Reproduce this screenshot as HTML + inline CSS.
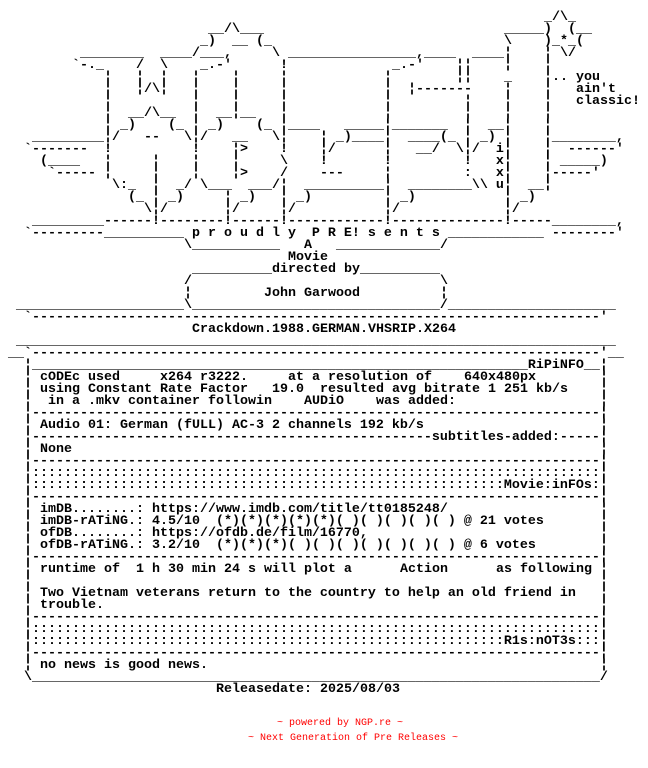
<!DOCTYPE html>
<html><head><meta charset="utf-8"><style>
html,body{margin:0;padding:0;background:#fff}
#a{position:relative;width:648px;height:768px;overflow:hidden;background:#fff;font:bold 13.333px/12px "Liberation Mono",monospace;color:#000}
#a span{position:absolute;white-space:pre;height:12px}
.r{font:normal 10px/12px "Liberation Mono",monospace!important;color:#f00}
</style></head><body><div id="a">
<span style="left:544px;top:12px">_/\_</span>
<span style="left:208px;top:24px">__/\___</span><span style="left:504px;top:24px">_____)</span><span style="left:568px;top:24px">(__</span>
<span style="left:200px;top:36px">_)</span><span style="left:232px;top:36px">__</span><span style="left:256px;top:36px">(_</span><span style="left:504px;top:36px">\</span><span style="left:544px;top:36px">)_*_(</span>
<span style="left:80px;top:48px">________</span><span style="left:160px;top:48px">____/___,</span><span style="left:272px;top:48px">\</span><span style="left:288px;top:48px">________________,____</span><span style="left:472px;top:48px">____¦</span><span style="left:544px;top:48px">¦ \/</span>
<span style="left:72px;top:60px">`-._</span><span style="left:136px;top:60px">/  \</span><span style="left:200px;top:60px">_.-'</span><span style="left:280px;top:60px">!</span><span style="left:392px;top:60px">_.-'</span><span style="left:456px;top:60px">¦¦</span><span style="left:504px;top:60px">¦    ¦</span>
<span style="left:104px;top:72px">¦   ¦  ¦   ¦    ¦     ¦</span><span style="left:384px;top:72px">¦</span><span style="left:456px;top:72px">¦¦</span><span style="left:504px;top:72px">_    ¦.. you</span>
<span style="left:104px;top:84px">¦   ¦/\¦   ¦    ¦     ¦</span><span style="left:384px;top:84px">¦  ¦-------</span><span style="left:504px;top:84px">¦    ¦   ain't</span>
<span style="left:104px;top:96px">¦          ¦    ¦     ¦</span><span style="left:384px;top:96px">¦         ¦    ¦    ¦   classic!</span>
<span style="left:104px;top:108px">¦  __/\__  ¦  __¦__   ¦</span><span style="left:384px;top:108px">¦         ¦    ¦    ¦</span>
<span style="left:104px;top:120px">¦ _)    (_ ¦ _)    (_ ¦____   _____¦_______  ¦  __¦    ¦</span>
<span style="left:32px;top:132px">_________¦/   --   \¦/   __   \¦    ¦ _)____¦  ____(_ ¦ _) ¦    ¦________,</span>
<span style="left:24px;top:144px">`-------  !          !    ¦&gt;    !    ¦/      ¦   __/  \¦/  i¦    ¦  ------'</span>
<span style="left:40px;top:156px">(____   ¦     ¦    ¦    ¦     \    !       !         !   x¦    ¦ _____)</span>
<span style="left:48px;top:168px">`----- ¦     ¦    ¦    ¦&gt;    /    ---     ¦         :   x¦    ¦-----'</span>
<span style="left:112px;top:180px">\:_  ¦  _/ \___  ___/¦  __________¦  ________\\ u¦  __¦</span>
<span style="left:128px;top:192px">(_ ¦ _)     ¦ _)   ¦ _)         ¦ _)           ¦ _)</span>
<span style="left:144px;top:204px">\¦/       ¦/     ¦/           ¦/             ¦/</span>
<span style="left:32px;top:216px">_________------!--------!------!------------!--------------!-----________,</span>
<span style="left:24px;top:228px">`---------__________ p r o u d l y  P R E! s e n t s ____________ --------'</span>
<span style="left:184px;top:240px">\___________   A   _____________/</span>
<span style="left:288px;top:252px">Movie</span>
<span style="left:192px;top:264px">__________directed by__________</span>
<span style="left:184px;top:276px">/</span><span style="left:440px;top:276px">\</span>
<span style="left:184px;top:288px">¦</span><span style="left:264px;top:288px">John Garwood</span><span style="left:440px;top:288px">¦</span>
<span style="left:16px;top:300px">_____________________\_______________________________/_____________________</span>
<span style="left:24px;top:312px">`-----------------------------------------------------------------------'</span>
<span style="left:192px;top:324px">Crackdown.1988.GERMAN.VHSRIP.X264</span>
<span style="left:16px;top:336px">___________________________________________________________________________</span>
<span style="left:8px;top:348px">__`-----------------------------------------------------------------------'__</span>
<span style="left:24px;top:360px">¦______________________________________________________________RiPiNFO__¦</span>
<span style="left:24px;top:372px">¦</span><span style="left:40px;top:372px">cODEc used</span><span style="left:160px;top:372px">x264 r3222.</span><span style="left:288px;top:372px">at a resolution of</span><span style="left:464px;top:372px">640x480px</span><span style="left:600px;top:372px">¦</span>
<span style="left:24px;top:384px">¦</span><span style="left:40px;top:384px">using Constant Rate Factor</span><span style="left:272px;top:384px">19.0</span><span style="left:320px;top:384px">resulted avg bitrate</span><span style="left:488px;top:384px">1 251 kb/s</span><span style="left:600px;top:384px">¦</span>
<span style="left:24px;top:396px">¦</span><span style="left:48px;top:396px">in a .mkv container followin</span><span style="left:304px;top:396px">AUDiO</span><span style="left:376px;top:396px">was added:</span><span style="left:600px;top:396px">¦</span>
<span style="left:24px;top:408px">¦-----------------------------------------------------------------------¦</span>
<span style="left:24px;top:420px">¦</span><span style="left:40px;top:420px">Audio 01: German (fULL) AC-3 2 channels 192 kb/s</span><span style="left:600px;top:420px">¦</span>
<span style="left:24px;top:432px">¦--------------------------------------------------subtitles-added:-----¦</span>
<span style="left:24px;top:444px">¦</span><span style="left:40px;top:444px">None</span><span style="left:600px;top:444px">¦</span>
<span style="left:24px;top:456px">¦-----------------------------------------------------------------------¦</span>
<span style="left:24px;top:468px">¦:::::::::::::::::::::::::::::::::::::::::::::::::::::::::::::::::::::::¦</span>
<span style="left:24px;top:480px">¦:::::::::::::::::::::::::::::::::::::::::::::::::::::::::::Movie:inFOs:¦</span>
<span style="left:24px;top:492px">¦-----------------------------------------------------------------------¦</span>
<span style="left:24px;top:504px">¦</span><span style="left:40px;top:504px">imDB........: https://www.imdb.com/title/tt0185248/</span><span style="left:600px;top:504px">¦</span>
<span style="left:24px;top:516px">¦</span><span style="left:40px;top:516px">imDB-rATiNG.: 4.5/10  (*)(*)(*)(*)(*)( )( )( )( )( ) @ 21 votes</span><span style="left:600px;top:516px">¦</span>
<span style="left:24px;top:528px">¦</span><span style="left:40px;top:528px">ofDB........: https://ofdb.de/film/16770,</span><span style="left:600px;top:528px">¦</span>
<span style="left:24px;top:540px">¦</span><span style="left:40px;top:540px">ofDB-rATiNG.: 3.2/10  (*)(*)(*)( )( )( )( )( )( )( ) @ 6 votes</span><span style="left:600px;top:540px">¦</span>
<span style="left:24px;top:552px">¦-----------------------------------------------------------------------¦</span>
<span style="left:24px;top:564px">¦</span><span style="left:40px;top:564px">runtime of  1 h 30 min 24 s will plot a</span><span style="left:400px;top:564px">Action</span><span style="left:496px;top:564px">as following</span><span style="left:600px;top:564px">¦</span>
<span style="left:24px;top:576px">¦</span><span style="left:600px;top:576px">¦</span>
<span style="left:24px;top:588px">¦</span><span style="left:40px;top:588px">Two Vietnam veterans return to the country to help an old friend in</span><span style="left:600px;top:588px">¦</span>
<span style="left:24px;top:600px">¦</span><span style="left:40px;top:600px">trouble.</span><span style="left:600px;top:600px">¦</span>
<span style="left:24px;top:612px">¦-----------------------------------------------------------------------¦</span>
<span style="left:24px;top:624px">¦:::::::::::::::::::::::::::::::::::::::::::::::::::::::::::::::::::::::¦</span>
<span style="left:24px;top:636px">¦:::::::::::::::::::::::::::::::::::::::::::::::::::::::::::R1s:nOT3s:::¦</span>
<span style="left:24px;top:648px">¦-----------------------------------------------------------------------¦</span>
<span style="left:24px;top:660px">¦</span><span style="left:40px;top:660px">no news is good news.</span><span style="left:600px;top:660px">¦</span>
<span style="left:24px;top:672px">\_______________________________________________________________________/</span>
<span style="left:216px;top:684px">Releasedate: 2025/08/03</span>
<span class="r" style="left:277px;top:718px">~ powered by NGP.re ~</span>
<span class="r" style="left:248px;top:733px">~ Next Generation of Pre Releases ~</span>
</div></body></html>
